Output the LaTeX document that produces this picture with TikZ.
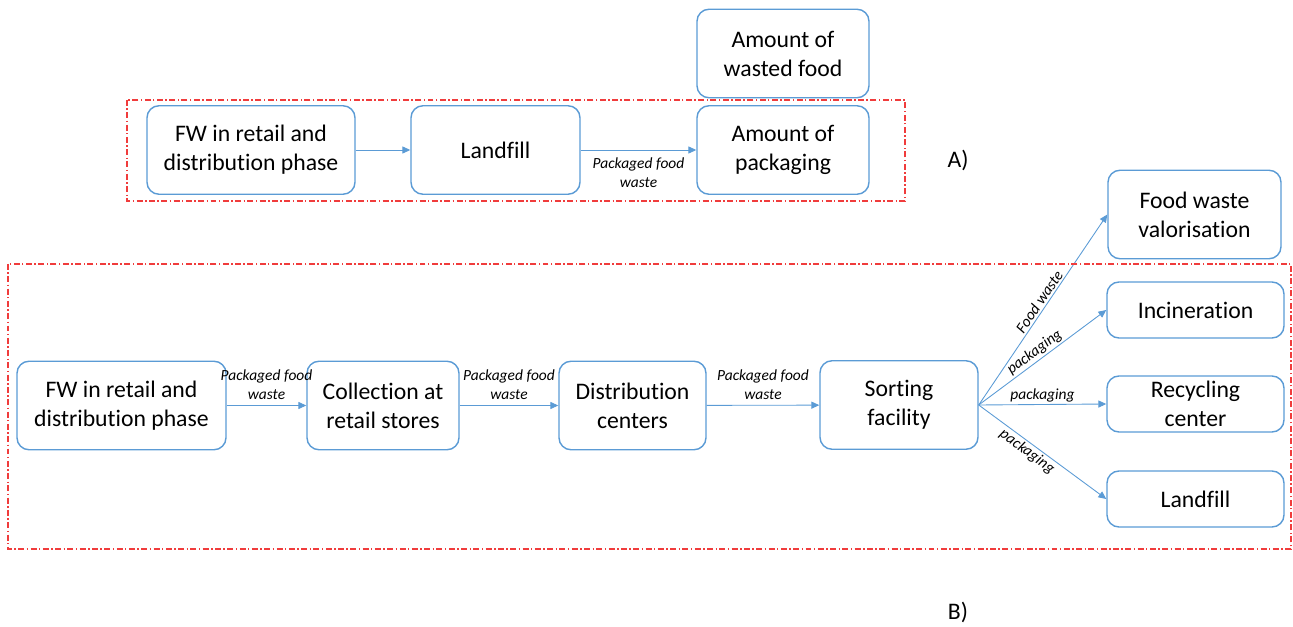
\documentclass[tikz,border=0pt]{standalone}
\usepackage{fontspec}
\setmainfont[Ligatures=NoCommon]{Carlito}
\usetikzlibrary{arrows.meta}
\definecolor{boxblue}{RGB}{91,155,213}
\definecolor{frame}{RGB}{240,60,60}
\begin{document}
\begin{tikzpicture}[box/.style={draw=boxblue, line width=0.8pt, rounded corners=0.24cm, align=center, inner sep=0pt, minimum height=1.77cm, font=\fontsize{13.5}{16.5}\selectfont}, slim/.style={box, minimum height=1.12cm, minimum width=3.54cm}, lbl/.style={font=\fontsize{8.8}{10.8}\selectfont\itshape, align=center, inner sep=1pt}, flow/.style={draw=boxblue, line width=0.5pt, -{Triangle[length=4.5pt,width=4pt]}}, part/.style={draw=frame, line width=0.8pt, dash pattern=on 3.4pt off 1.4pt on 0.8pt off 1.4pt}]
	\useasboundingbox (0,0) rectangle (25.86,-12.54);
	% A) current situation
	\node[box, minimum width=4.16cm] (FWa) at (5.02,-3.00) {FW in retail and\\distribution phase};
	\node[box, minimum width=3.38cm] (La) at (9.91,-3.00) {Landfill};
	\node[box, minimum width=3.44cm] (P) at (15.66,-3.00) {Amount of\\packaging};
	\node[box, minimum width=3.44cm] (W) at (15.66,-1.07) {Amount of\\wasted food};
	\draw[flow] (FWa) -- (La);
	\draw[flow] (La) -- node[lbl, below=3pt] {Packaged food\\waste} (P);
	\draw[part] (2.54,-2.00) rectangle (18.10,-4.02);
	\node (A) at (19.16,-3.20) {\fontsize{13.5}{16.5}\selectfont A)};
	% B) separate collection
	\node[box, minimum width=4.18cm] (FWb) at (2.43,-8.11) {FW in retail and\\distribution phase};
	\node[box, minimum width=3.04cm] (C) at (7.66,-8.11) {Collection at\\retail stores};
	\node[box, minimum width=2.94cm] (D) at (12.65,-8.11) {Distribution\\centers};
	\node[box, minimum width=3.16cm] (S) at (17.98,-8.10) {Sorting\\facility};
	\node[box, minimum width=3.46cm] (V) at (23.89,-4.29) {Food waste\\valorisation};
	\node[slim] (I) at (23.91,-6.20) {Incineration};
	\node[slim] (R) at (23.91,-8.08) {Recycling\\center};
	\node[slim] (Lb) at (23.91,-9.98) {Landfill};
	\draw[flow] (FWb) -- node[lbl, above=2pt] {Packaged food\\waste} (C);
	\draw[flow] (C) -- node[lbl, above=2pt] {Packaged food\\waste} (D);
	\draw[flow] (D) -- node[lbl, above=2pt] {Packaged food\\waste} (S);
	\draw[flow] (S.east) -- node[lbl, sloped, above, pos=0.52] {Food waste} (V.west);
	\draw[flow] (S.east) -- node[lbl, sloped, above, pos=0.48] {packaging} (I.west);
	\draw[flow] (S.east) -- node[lbl, above, pos=0.5] {packaging} (R.west);
	\draw[flow] (S.east) -- node[lbl, sloped, below, pos=0.42] {packaging} (Lb.west);
	\draw[part] (0.16,-5.28) rectangle (25.82,-10.98);
	\node (B) at (19.16,-12.24) {\fontsize{13.5}{16.5}\selectfont B)};
\end{tikzpicture}
\end{document}
